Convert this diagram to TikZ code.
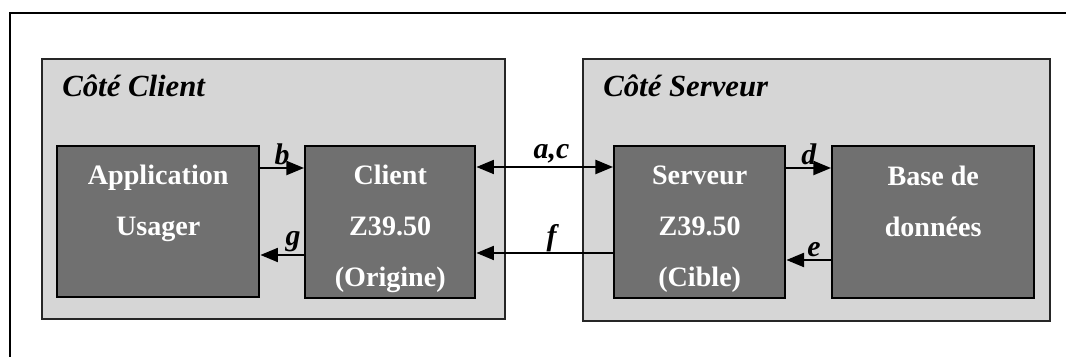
\documentclass[tikz,border=0pt]{standalone}
\usepackage{fontspec}
\setmainfont{Liberation Serif}
\usetikzlibrary{arrows.meta}
\definecolor{panelgray}{RGB}{214,214,214}
\definecolor{boxgray}{RGB}{112,112,112}
\tikzset{
  side/.style={draw=black!85, fill=panelgray, line width=1.1pt, anchor=north west, inner sep=0pt},
  sidetitle/.style={anchor=base west, inner sep=0pt, font=\fontsize{17.5}{20}\selectfont\bfseries\itshape},
  unit/.style={draw=black, fill=boxgray, line width=1.4pt, anchor=north west, inner sep=0pt,
    text=white, align=center, font=\fontsize{16}{29}\selectfont\bfseries},
  tip/.style={Triangle[length=10pt,width=8pt]},
  flow/.style={line width=1.1pt, -{Triangle[length=10pt,width=8pt]}},
  lbl/.style={above, inner sep=1.5pt, font=\fontsize{17}{18}\selectfont\bfseries\itshape}
}
\begin{document}
\begin{tikzpicture}[x=0.02cm,y=-0.02cm]
  \useasboundingbox (0,0) rectangle (1066,357);
  % cadre
  \draw[line width=0.8pt] (10,357) -- (10,13) -- (1066,13);
  % deux cotes
  \node[side, minimum width=9.26cm, minimum height=5.2cm] (cside) at (41,58) {};
  \node[side, minimum width=9.34cm, minimum height=5.24cm] (sside) at (582,58) {};
  \node[sidetitle] (ctitle) at (62,97) {Côté Client};
  \node[sidetitle] (stitle) at (603,97) {Côté Serveur};
  % modules
  \node[unit, minimum width=4.04cm, minimum height=3.02cm] (app) at (56,145) {\rule{0pt}{16pt}Application\\Usager\\~};
  \node[unit, minimum width=3.4cm, minimum height=3.04cm] (client) at (304,145) {\rule{0pt}{19pt}Client\\Z39.50\\(Origine)};
  \node[unit, minimum width=3.42cm, minimum height=3.04cm] (serveur) at (613,145) {\rule{0pt}{19pt}Serveur\\Z39.50\\(Cible)};
  \node[unit, minimum width=4.04cm, minimum height=3.04cm] (base) at (831,145) {\rule{0pt}{16pt}Base de\\données\\~};
  % echanges
  \draw[flow] (app.east |- 0,168) -- node[lbl]{b} (client.west |- 0,168);
  \draw[flow] (client.west |- 0,255) -- node[lbl, pos=0.25]{g} (app.east |- 0,255);
  \draw[flow, {Triangle[length=10pt,width=8pt]}-{Triangle[length=10pt,width=8pt]}]
    (client.east |- 0,167) -- node[lbl, pos=0.55]{a,c} (serveur.west |- 0,167);
  \draw[flow] (serveur.west |- 0,253) -- node[lbl, pos=0.45, inner sep=0pt]{f} (client.east |- 0,253);
  \draw[flow] (serveur.east |- 0,168) -- node[lbl]{d} (base.west |- 0,168);
  \draw[flow] (base.west |- 0,260) -- node[lbl, pos=0.38]{e} (serveur.east |- 0,260);
\end{tikzpicture}
\end{document}
